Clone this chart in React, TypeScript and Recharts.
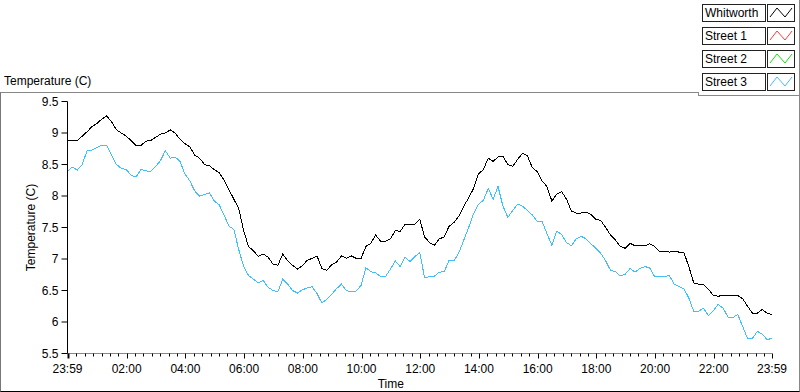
import { Line, LineChart, XAxis, YAxis } from "recharts";

const FONT = "'Liberation Sans', Arial, sans-serif";

// one reading every 10 minutes, counted from 23:59
const minutes = Array.from({ length: 145 }, (_, i) => i * 10);

const whitworth = [
  8.88, 8.88, 8.88, 8.95, 9.02, 9.1, 9.15, 9.22, 9.27, 9.18,
  9.05, 9.0, 8.95, 8.88, 8.8, 8.8, 8.87, 8.88, 8.93, 8.98,
  9.0, 9.05, 9.0, 8.9, 8.83, 8.78, 8.65, 8.6, 8.5, 8.48,
  8.42, 8.37, 8.25, 8.1, 7.95, 7.8, 7.45, 7.2, 7.13, 7.04,
  7.08, 7.03, 6.92, 6.9, 7.08, 6.97, 6.9, 6.84, 6.89, 6.98,
  7.01, 7.05, 6.85, 6.82, 6.91, 6.95, 7.05, 7.01, 7.05, 7.01,
  7.01, 7.2, 7.25, 7.38, 7.28, 7.28, 7.32, 7.45, 7.44, 7.55,
  7.55, 7.55, 7.63, 7.35, 7.26, 7.22, 7.32, 7.35, 7.52, 7.58,
  7.68, 7.84, 7.97, 8.12, 8.35, 8.42, 8.6, 8.55, 8.62, 8.63,
  8.5, 8.47, 8.58, 8.68, 8.64, 8.45, 8.39, 8.24, 8.15, 7.92,
  8.03, 8.07, 7.95, 7.76, 7.73, 7.73, 7.74, 7.71, 7.63, 7.61,
  7.5, 7.38, 7.3, 7.2, 7.17, 7.25, 7.21, 7.21, 7.21, 7.24,
  7.2, 7.12, 7.12, 7.11, 7.12, 7.11, 7.1, 6.88, 6.62, 6.6,
  6.59, 6.52, 6.42, 6.41, 6.42, 6.42, 6.42, 6.42, 6.37, 6.25,
  6.14, 6.14, 6.2, 6.14, 6.12,
];

const street3 = [
  8.39, 8.46, 8.41, 8.5, 8.72, 8.73, 8.77, 8.81, 8.8, 8.65,
  8.5, 8.44, 8.42, 8.33, 8.3, 8.42, 8.4, 8.39, 8.47, 8.56,
  8.72, 8.6, 8.62, 8.55, 8.35, 8.24, 8.08, 8.0, 8.02, 8.05,
  7.92, 7.86, 7.7, 7.52, 7.47, 7.15, 6.88, 6.74, 6.68, 6.62,
  6.66, 6.55, 6.5, 6.48, 6.68, 6.6, 6.5, 6.46, 6.51, 6.54,
  6.56, 6.45, 6.3, 6.36, 6.44, 6.53, 6.6, 6.5, 6.48, 6.49,
  6.58, 6.86, 6.8, 6.78, 6.72, 6.72, 6.84, 6.97, 6.88, 7.03,
  6.96, 7.04, 7.1, 6.7, 6.72, 6.73, 6.79, 6.8, 6.98, 6.97,
  7.1, 7.3, 7.5, 7.72, 7.87, 7.93, 8.12, 7.95, 8.15, 7.84,
  7.66, 7.77, 7.87, 7.84, 7.77, 7.7, 7.6, 7.6, 7.4, 7.22,
  7.44, 7.39, 7.26, 7.21, 7.32, 7.36, 7.32, 7.24, 7.17, 7.09,
  6.97, 6.82, 6.8, 6.73, 6.76, 6.85, 6.79, 6.85, 6.88, 6.86,
  6.72, 6.72, 6.72, 6.74, 6.6, 6.56, 6.53, 6.38, 6.17, 6.17,
  6.22, 6.1, 6.18, 6.28, 6.22, 6.08, 6.07, 6.12, 5.93, 5.74,
  5.74, 5.85, 5.81, 5.72, 5.74,
];

const seriesNames = ["Whitworth", "Street 1", "Street 2", "Street 3"];
const seriesColors = ["#000000", "#ff3c3c", "#22d622", "#40bfff"];

const majorTicks = [0, 121, 241, 361, 481, 601, 721, 841, 961, 1081, 1201, 1321, 1440];
const majorLabels = [
  "23:59", "02:00", "04:00", "06:00", "08:00", "10:00", "12:00",
  "14:00", "16:00", "18:00", "20:00", "22:00", "23:59",
];
const yTicks = [5.5, 6, 6.5, 7, 7.5, 8, 8.5, 9, 9.5];

// minor ticks: 7 steps per 2 hours, anchored on 00:00
const minorTicks: number[] = [];
for (let j = 1; j < 84; j++) {
  if (j % 7 !== 0) minorTicks.push(1 + (j * 120) / 7);
}
const xTicks = [...majorTicks, ...minorTicks].sort((a, b) => a - b);

const data = minutes.map((m, i) => ({
  m,
  whitworth: whitworth[i],
  street3: street3[i],
}));

function TimeTick(props: any) {
  const { x, y, payload } = props;
  const px = Math.round(x) + 0.5;
  const i = majorTicks.indexOf(payload.value);
  if (i < 0) {
    return <line x1={px} x2={px} y1={y} y2={y + 3} stroke="#000" />;
  }
  return (
    <g>
      <line x1={px} x2={px} y1={y} y2={y + 5} stroke="#000" strokeWidth={i === 0 ? 2 : 1} />
      <text x={x} y={y + 19} textAnchor="middle" fontFamily={FONT} fontSize={12} fill="#000">
        {majorLabels[i]}
      </text>
    </g>
  );
}

function Legend() {
  return (
    <div
      style={{
        position: "absolute",
        left: 698,
        top: 0,
        width: 101,
        height: 95,
        background: "#fff",
        borderRight: "1px solid #888",
        borderBottom: "1px solid #888",
      }}
    >
      {seriesNames.map((name, i) => (
        <div key={name} style={{ position: "absolute", left: 4, top: 4 + i * 23 }}>
          <div
            style={{
              position: "absolute",
              left: 0,
              top: 0,
              width: 60,
              height: 16,
              border: "1px solid #222",
              fontFamily: FONT,
              fontSize: 12,
              lineHeight: "16px",
              paddingLeft: 2,
              boxSizing: "content-box",
              whiteSpace: "nowrap",
            }}
          >
            {name}
          </div>
          <svg
            width={28}
            height={18}
            style={{ position: "absolute", left: 65, top: 0 }}
          >
            <rect x={0.5} y={0.5} width={27} height={17} fill="#fff" stroke="#222" />
            <polyline
              points="3,13 10,4 18,13 25,4"
              fill="none"
              stroke={seriesColors[i]}
              strokeWidth={1}
            />
          </svg>
        </div>
      ))}
    </div>
  );
}

export default function App() {
  return (
    <div style={{ position: "absolute", left: 0, top: 0, width: 800, height: 392, background: "#fff" }}>
      <div
        style={{
          position: "absolute",
          left: 0,
          top: 92,
          width: 798,
          height: 298,
          borderTop: "1px solid #888",
          borderLeft: "1px solid #777",
          borderRight: "1px solid #888",
          borderBottom: "1px solid #000",
        }}
      />
      <Legend />
      <div style={{ position: "absolute", left: 698, top: 92, width: 1, height: 4, background: "#888" }} />
      <div
        style={{
          position: "absolute",
          left: 4,
          top: 74,
          fontFamily: FONT,
          fontSize: 12,
          lineHeight: "14px",
          color: "#000",
        }}
      >
        Temperature (C)
      </div>
      <div style={{ position: "absolute", left: 0, top: 0 }}>
        <LineChart
          width={800}
          height={392}
          data={data}
          margin={{ top: 101.5, right: 28, left: 0, bottom: 3 }}
        >
          <XAxis
            dataKey="m"
            type="number"
            domain={[0, 1440]}
            ticks={xTicks}
            interval={0}
            tickLine={false}
            tickSize={0}
            tickMargin={0}
            height={35.5}
            axisLine={{ stroke: "#888" }}
            tick={<TimeTick />}
            label={{
              content: (p: any) => {
                const vb = p.viewBox;
                return (
                  <text
                    x={vb.x + vb.width / 2 - 29}
                    y={vb.y + vb.height - 1}
                    textAnchor="middle"
                    fontFamily={FONT}
                    fontSize={12}
                    fill="#000"
                  >
                    Time
                  </text>
                );
              },
            }}
          />
          <XAxis
            xAxisId="top"
            orientation="top"
            type="number"
            dataKey="m"
            domain={[0, 1440]}
            height={0}
            tick={false}
            tickLine={false}
            axisLine={{ stroke: "#000" }}
          />
          <YAxis
            type="number"
            domain={[5.5, 9.5]}
            ticks={yTicks}
            interval={0}
            width={67.5}
            tickSize={6}
            tickMargin={3}
            allowDataOverflow
            axisLine={{ stroke: "#000" }}
            tickLine={{ stroke: "#000" }}
            tick={{ fill: "#000", fontSize: 12, fontFamily: FONT }}
            label={{
              value: "Temperature (C)",
              angle: -90,
              position: "center",
              fill: "#000",
              fontSize: 12,
              fontFamily: FONT,
              dx: -3,
            }}
          />
          <YAxis
            yAxisId="right"
            orientation="right"
            type="number"
            domain={[5.5, 9.5]}
            width={0}
            tick={false}
            tickLine={false}
            axisLine={{ stroke: "#888" }}
          />
          <Line
            dataKey="whitworth"
            stroke={seriesColors[0]}
            strokeWidth={1}
            shapeRendering="crispEdges"
            dot={false}
            isAnimationActive={false}
          />
          <Line
            dataKey="street3"
            stroke={seriesColors[3]}
            strokeWidth={1}
            shapeRendering="crispEdges"
            dot={false}
            isAnimationActive={false}
          />
        </LineChart>
      </div>
    </div>
  );
}
